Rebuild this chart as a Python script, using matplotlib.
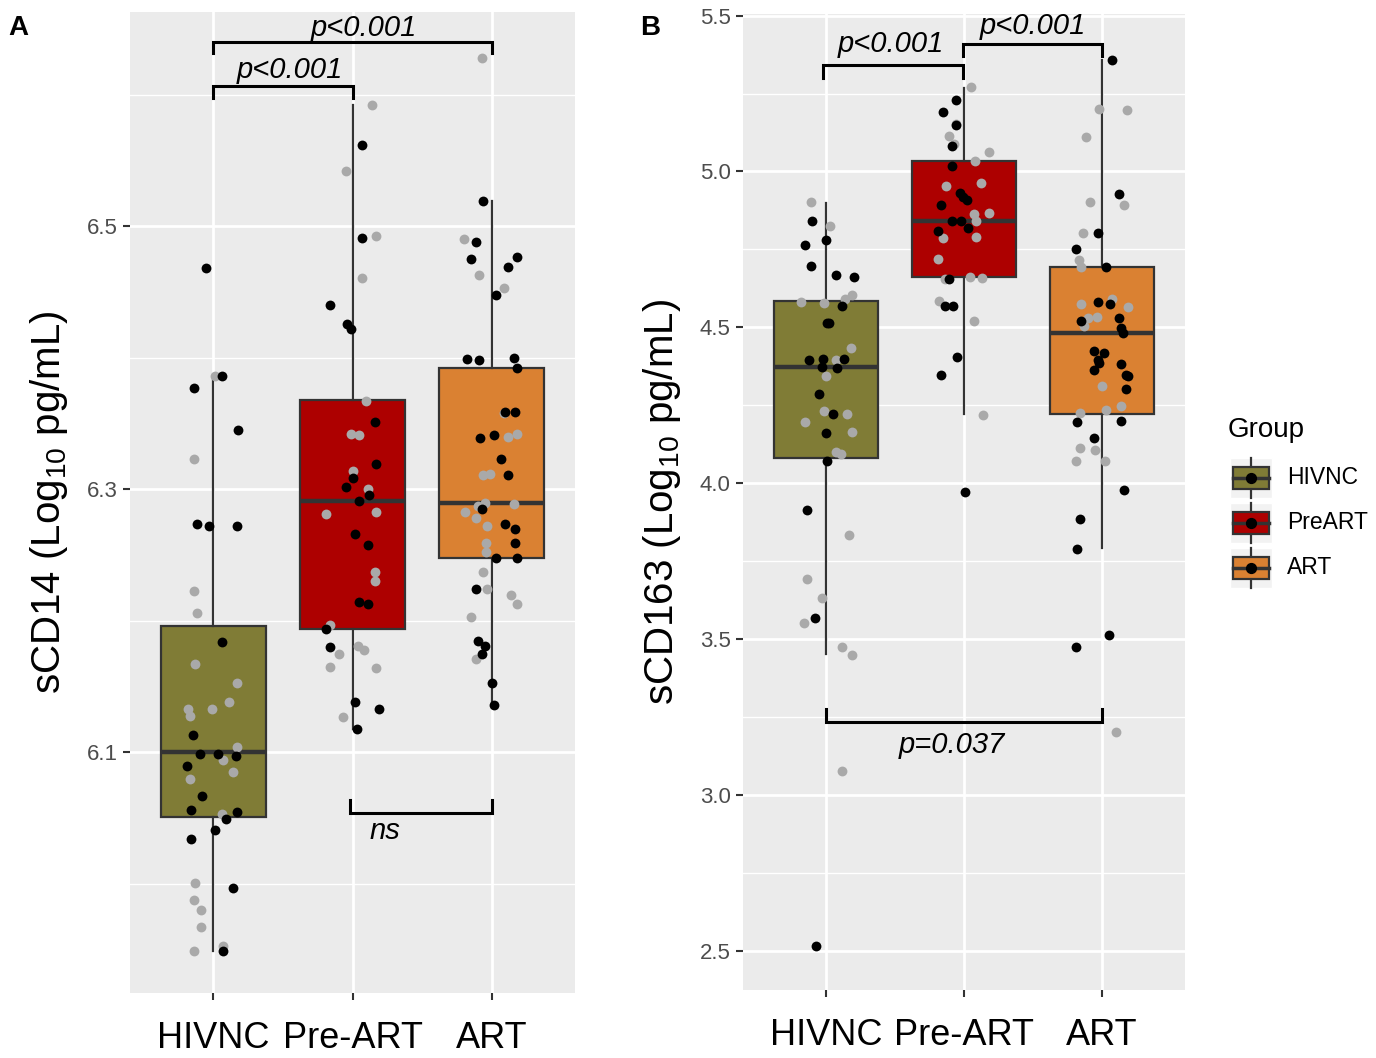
import matplotlib
matplotlib.use('Agg')
import matplotlib.pyplot as plt
import matplotlib.patches as patches

plt.rcParams['font.family'] = ['Liberation Sans', 'DejaVu Sans']
plt.rcParams['mathtext.default'] = 'regular'

W, H = 1376, 1058

GROUPS = ['HIVNC', 'Pre-ART', 'ART']
LEGEND_LABELS = ['HIVNC', 'PreART', 'ART']
FILLS = ['#807C36', '#AD0000', '#DA8132']

# points: (value, jitter, black?)
A_HIVNC = [
    (6.468, -0.05, 1), (6.386, 0.01, 0), (6.386, 0.06, 1), (6.377, -0.14, 1),
    (6.345, 0.18, 1), (6.323, -0.14, 0), (6.274, -0.12, 1), (6.272, -0.03, 1),
    (6.272, 0.17, 1), (6.223, -0.14, 0), (6.206, -0.12, 0), (6.184, 0.06, 1),
    (6.167, -0.13, 0), (6.153, 0.17, 0), (6.138, 0.11, 0), (6.133, -0.18, 0),
    (6.128, -0.17, 0), (6.133, -0.01, 0), (6.113, -0.15, 1), (6.099, -0.10, 1),
    (6.099, 0.03, 1), (6.097, 0.16, 1), (6.104, 0.17, 0), (6.094, 0.07, 0),
    (6.090, -0.19, 1), (6.085, 0.14, 0), (6.080, -0.17, 0), (6.067, -0.08, 1),
    (6.056, -0.16, 1), (6.055, 0.17, 1), (6.053, 0.06, 0), (6.049, 0.09, 1),
    (6.041, 0.01, 1), (6.034, -0.16, 1), (6.001, -0.13, 0), (5.997, 0.14, 1),
    (5.988, -0.14, 0), (5.980, -0.09, 0), (5.967, -0.09, 0), (5.949, -0.14, 0),
    (5.953, 0.07, 0), (5.949, 0.07, 1),
]
A_PREART = [
    (6.592, 0.14, 0), (6.562, 0.07, 1), (6.542, -0.05, 0), (6.491, 0.07, 1),
    (6.493, 0.17, 0), (6.461, 0.07, 0), (6.440, -0.16, 1), (6.426, -0.04, 1),
    (6.422, -0.01, 1), (6.367, 0.10, 0), (6.351, 0.16, 1), (6.342, -0.01, 0),
    (6.341, 0.05, 0), (6.319, 0.17, 1), (6.314, 0.00, 0), (6.309, 0.00, 1),
    (6.302, -0.05, 1), (6.300, 0.11, 0), (6.296, 0.12, 1), (6.291, 0.05, 1),
    (6.281, -0.19, 0), (6.283, 0.17, 0), (6.266, 0.02, 1), (6.258, 0.11, 1),
    (6.237, 0.16, 0), (6.230, 0.16, 0), (6.214, 0.05, 1), (6.213, 0.11, 1),
    (6.197, -0.16, 0), (6.194, -0.19, 1), (6.180, -0.16, 1), (6.175, -0.10, 0),
    (6.165, -0.16, 0), (6.181, 0.04, 0), (6.178, 0.08, 0), (6.164, 0.17, 0),
    (6.138, 0.02, 1), (6.133, 0.19, 1), (6.127, -0.07, 0), (6.118, 0.03, 1),
]
A_ART = [
    (6.628, -0.07, 0), (6.519, -0.06, 1), (6.490, -0.20, 0), (6.488, -0.11, 1),
    (6.475, -0.15, 1), (6.477, 0.18, 1), (6.469, 0.12, 1), (6.463, -0.09, 0),
    (6.453, 0.09, 0), (6.448, 0.03, 1), (6.399, -0.18, 1), (6.398, -0.09, 1),
    (6.400, 0.16, 1), (6.392, 0.18, 1), (6.358, 0.09, 0), (6.359, 0.10, 1),
    (6.359, 0.17, 1), (6.339, -0.08, 1), (6.341, 0.02, 1), (6.340, 0.12, 0),
    (6.342, 0.18, 0), (6.323, 0.07, 1), (6.311, -0.06, 0), (6.312, -0.01, 0),
    (6.311, 0.12, 1), (6.290, -0.05, 0), (6.287, -0.10, 0), (6.289, 0.16, 0),
    (6.285, -0.07, 1), (6.283, -0.19, 0), (6.278, -0.11, 0), (6.272, -0.03, 0),
    (6.274, 0.10, 1), (6.270, 0.17, 1), (6.259, 0.17, 1), (6.259, -0.04, 0),
    (6.252, -0.04, 0), (6.248, 0.03, 1), (6.248, 0.18, 1), (6.237, -0.06, 0),
    (6.224, -0.11, 1), (6.224, -0.03, 0), (6.220, 0.14, 0), (6.213, 0.18, 0),
    (6.203, -0.15, 0), (6.185, -0.10, 1), (6.181, -0.05, 1), (6.175, -0.07, 1),
    (6.171, -0.11, 0), (6.153, 0.00, 1), (6.136, 0.02, 1),
]

B_HIVNC = [
    (4.902, -0.11, 0), (4.842, -0.10, 1), (4.826, 0.03, 0), (4.780, 0.00, 1),
    (4.764, -0.15, 1), (4.698, -0.11, 1), (4.669, 0.07, 1), (4.660, 0.20, 1),
    (4.605, 0.19, 0), (4.591, 0.14, 0), (4.582, -0.18, 0), (4.579, -0.01, 0),
    (4.568, 0.12, 1), (4.514, 0.01, 1), (4.513, 0.02, 1), (4.434, 0.18, 0),
    (4.394, -0.12, 1), (4.400, -0.02, 1), (4.400, 0.13, 1), (4.396, 0.07, 0),
    (4.373, -0.03, 1), (4.370, 0.08, 1), (4.345, 0.00, 0), (4.287, -0.05, 1),
    (4.232, -0.01, 0), (4.223, 0.05, 1), (4.222, 0.15, 0), (4.195, -0.15, 0),
    (4.162, 0.00, 1), (4.163, 0.19, 0), (4.099, 0.07, 0), (4.093, 0.11, 0),
    (4.071, 0.01, 1), (3.914, -0.14, 1), (3.834, 0.17, 0), (3.694, -0.14, 0),
    (3.631, -0.03, 0), (3.567, -0.08, 1), (3.553, -0.16, 0), (3.475, 0.12, 0),
    (3.449, 0.19, 0), (3.076, 0.12, 0), (2.517, -0.07, 1),
]
B_PREART = [
    (5.270, 0.05, 0), (5.230, -0.06, 1), (5.192, -0.15, 1), (5.149, -0.06, 1),
    (5.153, -0.06, 0), (5.113, -0.11, 0), (5.081, -0.09, 1), (5.087, -0.07, 0),
    (5.062, 0.18, 0), (5.032, 0.08, 0), (5.018, -0.09, 1), (4.952, -0.13, 0),
    (4.962, 0.12, 0), (4.930, -0.03, 1), (4.917, -0.01, 1), (4.909, 0.02, 1),
    (4.891, -0.17, 1), (4.864, 0.07, 0), (4.868, 0.18, 0), (4.841, -0.09, 1),
    (4.841, -0.02, 1), (4.841, 0.09, 0), (4.820, 0.03, 1), (4.809, -0.19, 1),
    (4.788, -0.15, 0), (4.791, 0.09, 0), (4.718, -0.19, 0), (4.655, -0.11, 1),
    (4.655, -0.14, 0), (4.661, 0.04, 0), (4.659, 0.13, 0), (4.584, -0.18, 0),
    (4.569, -0.14, 1), (4.569, -0.08, 1), (4.522, 0.07, 0), (4.404, -0.05, 1),
    (4.347, -0.17, 1), (4.220, 0.14, 0), (3.973, 0.01, 1),
]
B_ART = [
    (5.358, 0.07, 1), (5.201, -0.02, 0), (5.198, 0.18, 0), (5.109, -0.12, 0),
    (4.929, 0.12, 1), (4.901, -0.09, 0), (4.894, 0.16, 0), (4.804, -0.14, 0),
    (4.802, -0.03, 1), (4.752, -0.19, 1), (4.715, -0.17, 0), (4.693, -0.15, 0),
    (4.693, 0.03, 1), (4.590, 0.07, 0), (4.575, -0.15, 0), (4.566, 0.19, 0),
    (4.581, -0.03, 1), (4.574, 0.06, 1), (4.531, -0.10, 0), (4.533, -0.04, 0),
    (4.522, -0.15, 1), (4.531, 0.12, 1), (4.506, -0.13, 0), (4.499, 0.14, 1),
    (4.482, 0.15, 1), (4.424, -0.06, 1), (4.419, 0.01, 1), (4.394, -0.03, 1),
    (4.387, -0.02, 1), (4.364, -0.06, 1), (4.384, 0.14, 1), (4.346, 0.17, 1),
    (4.345, 0.19, 1), (4.313, 0.00, 0), (4.303, 0.17, 1), (4.225, -0.16, 0),
    (4.234, 0.03, 0), (4.247, 0.14, 0), (4.196, -0.18, 1), (4.200, 0.14, 1),
    (4.145, -0.06, 1), (4.113, -0.16, 0), (4.107, -0.05, 0), (4.070, -0.19, 0),
    (4.070, 0.02, 0), (3.980, 0.16, 1), (3.884, -0.16, 1), (3.790, -0.18, 1),
    (3.475, -0.19, 1), (3.515, 0.05, 1), (3.204, 0.10, 0),
]

# box statistics as drawn
A_Q1 = [6.051, 6.194, 6.248]
A_MED = [6.100, 6.291, 6.290]
A_Q3 = [6.196, 6.368, 6.392]
A_LO = [5.949, 6.118, 6.136]
A_HI = [6.386, 6.592, 6.519]

B_Q1 = [4.081, 4.661, 4.223]
B_MED = [4.372, 4.842, 4.482]
B_Q3 = [4.583, 5.032, 4.693]
B_LO = [3.454, 4.223, 3.793]
B_HI = [4.900, 5.268, 5.358]

DARK = '#333333'
PANEL_BG = '#EBEBEB'


def px_axes(fig, left, top, right, bottom):
    return fig.add_axes([left / W, 1 - bottom / H, (right - left) / W, (bottom - top) / H])


def style_axes(ax, ylim, major, minor):
    ax.set_facecolor(PANEL_BG)
    ax.set_xlim(0.4, 3.6)
    ax.set_ylim(*ylim)
    for s in ax.spines.values():
        s.set_visible(False)
    ax.set_yticks(major)
    ax.set_yticks(minor, minor=True)
    ax.set_xticks([1, 2, 3])
    ax.set_xticklabels(GROUPS, fontsize=26, color='black')
    ax.tick_params(axis='y', which='major', labelsize=16, labelcolor='#4D4D4D',
                   color=DARK, length=5, width=1.5, pad=4)
    ax.tick_params(axis='y', which='minor', length=0)
    ax.tick_params(axis='x', color=DARK, length=5, width=1.5, pad=15)
    ax.grid(True, which='major', color='white', linewidth=2)
    ax.grid(True, which='minor', axis='y', color='white', linewidth=1)
    ax.set_axisbelow(True)


def draw_groups(ax, groups, q1, med, q3, lo, hi):
    stats = [dict(q1=q1[i], med=med[i], q3=q3[i], whislo=lo[i], whishi=hi[i], fliers=[])
             for i in range(3)]
    bp = ax.bxp(stats, positions=[1, 2, 3], widths=0.75, patch_artist=True,
                showfliers=False, showcaps=False, manage_ticks=False,
                boxprops=dict(edgecolor=DARK, linewidth=1.6),
                medianprops=dict(color=DARK, linewidth=3.2),
                whiskerprops=dict(color=DARK, linewidth=1.6))
    for patch, c in zip(bp['boxes'], FILLS):
        patch.set_facecolor(c)
    for i, pts in enumerate(groups):
        for dark in (0, 1):
            xs = [i + 1 + j for v, j, d in pts if d == dark]
            ys = [v for v, j, d in pts if d == dark]
            ax.scatter(xs, ys, s=50, color='black' if dark else '#A9A9A9',
                       linewidths=0, zorder=4)


def bracket(ax, x1, x2, y, tip, label, lx, ly):
    ax.plot([x1, x1, x2, x2], [y + tip, y, y, y + tip], color='black',
            linewidth=2.2, solid_joinstyle='miter', zorder=5)
    ax.text(lx, ly, label, ha='center', va='center', fontsize=21,
            style='italic', zorder=5)


fig = plt.figure(figsize=(W / 100, H / 100), dpi=100)

# panel A
axA = px_axes(fig, 130, 12, 575, 993)
draw_groups(axA, [A_HIVNC, A_PREART, A_ART], A_Q1, A_MED, A_Q3, A_LO, A_HI)
style_axes(axA, (5.917, 6.663), [6.1, 6.3, 6.5], [6.0, 6.2, 6.4, 6.6])
axA.set_ylabel('sCD14 (Log$_{10}$ pg/mL)', fontsize=29, labelpad=12)
bracket(axA, 1, 2, 6.6065, -0.009, 'p<0.001', 1.55, 6.619)
bracket(axA, 1, 3, 6.640, -0.0085, 'p<0.001', 2.08, 6.651)
bracket(axA, 1.98, 3, 6.054, 0.0095, 'ns', 2.23, 6.040)

# panel B
axB = px_axes(fig, 743, 14, 1185, 990)
draw_groups(axB, [B_HIVNC, B_PREART, B_ART], B_Q1, B_MED, B_Q3, B_LO, B_HI)
style_axes(axB, (2.375, 5.505), [2.5, 3.0, 3.5, 4.0, 4.5, 5.0, 5.5],
           [2.75, 3.25, 3.75, 4.25, 4.75, 5.25])
axB.set_ylabel('sCD163 (Log$_{10}$ pg/mL)', fontsize=29, labelpad=12)
bracket(axB, 0.98, 1.99, 5.340, -0.040, 'p<0.001', 1.47, 5.41)
bracket(axB, 1.99, 3, 5.409, -0.040, 'p<0.001', 2.50, 5.465)
bracket(axB, 1, 3, 3.235, 0.040, 'p=0.037', 1.91, 3.16)

fig.text(18 / W, 1 - 28 / H, 'A', fontsize=20, fontweight='bold', ha='center', va='center')
fig.text(650 / W, 1 - 28 / H, 'B', fontsize=20, fontweight='bold', ha='center', va='center')

# legend, drawn in pixel space
axL = px_axes(fig, 1220, 400, 1376, 600)
axL.set_xlim(1220, 1376)
axL.set_ylim(600, 400)
axL.axis('off')
axL.text(1228, 430, 'Group', fontsize=20, ha='left', va='center')
for k, (lab, c) in enumerate(zip(LEGEND_LABELS, FILLS)):
    cy = 478 + 45 * k
    axL.add_patch(patches.Rectangle((1230, cy - 20), 42, 40, facecolor='#F2F2F2',
                                    edgecolor='white', linewidth=1))
    axL.plot([1251, 1251], [cy - 20, cy + 20], color=DARK, linewidth=1.6)
    axL.add_patch(patches.Rectangle((1233, cy - 11), 36, 22, facecolor=c,
                                    edgecolor=DARK, linewidth=1.6, zorder=3))
    axL.plot([1233, 1269], [cy, cy], color=DARK, linewidth=2.5, zorder=4)
    axL.scatter([1251], [cy], s=50, color='black', zorder=5)
    axL.text(1287, cy, lab, fontsize=16.5, ha='left', va='center')

fig.savefig('out.png', dpi=100)
